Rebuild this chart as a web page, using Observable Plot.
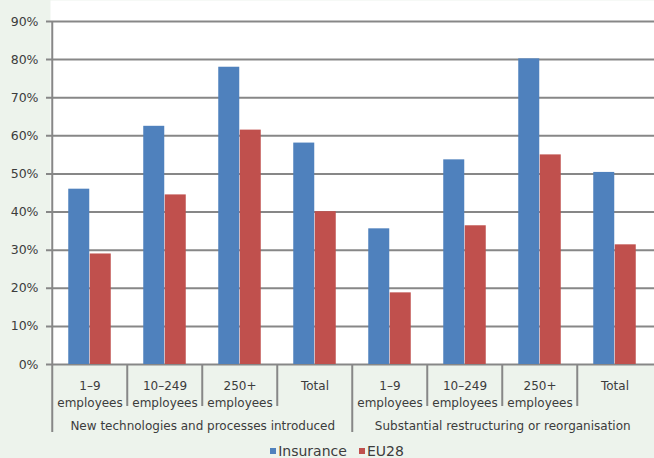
<!DOCTYPE html>
<html>
<head>
<meta charset="utf-8">
<script src="https://cdn.jsdelivr.net/npm/d3@7"></script>
<script src="https://cdn.jsdelivr.net/npm/@observablehq/plot@0.6"></script>
<style>
  body { margin: 0; background: #edf3ec; font-family: "DejaVu Sans", sans-serif; }
  #chart svg { display: block; }
  #legend { display: flex; justify-content: center; align-items: center; height: 20px;
            padding-top: 3px; padding-left: 20px; font-size: 14px; color: #3c3c3c; }
  #legend .item { display: flex; align-items: center; margin: 0 6px; }
  #legend .sw { width: 6px; height: 6px; margin-right: 2px; }
</style>
</head>
<body>
<div id="chart"></div>
<div id="legend"></div>
<script>
// Share of establishments reporting each type of change, by size class
const groups = ["New technologies and processes introduced", "Substantial restructuring or reorganisation"];
const sizes = ["1–9\nemployees", "10–249\nemployees", "250+\nemployees", "Total"];
const insurance = [46.0, 62.5, 78.0, 58.1, 35.6, 53.7, 80.2, 50.4];
const eu28 = [29.0, 44.5, 61.5, 40.1, 18.8, 36.4, 55.0, 31.4];
const yTicks = [0, 10, 20, 30, 40, 50, 60, 70, 80, 90];
const seriesNames = ["Insurance", "EU28"];
const seriesColors = ["#4f81bd", "#c0504d"];

const rows = insurance.map((v, i) => ({
  key: groups[Math.floor(i / sizes.length)] + "|" + sizes[i % sizes.length],
  group: groups[Math.floor(i / sizes.length)],
  size: sizes[i % sizes.length],
  groupStart: i % sizes.length === 0,
  insurance: v,
  eu28: eu28[i]
}));
const keys = rows.map(d => d.key);

const width = 654, marginLeft = 50, marginRight = 0;
const step = (width - marginLeft - marginRight) / keys.length;
const half = step / 2;
const barW = 21.5;
const outer = (step - 2 * barW) / 2;
const axisColor = "#878787";
const textColor = "#3c3c3c";

const chart = Plot.plot({
  width, height: 438,
  marginLeft, marginRight, marginTop: 21, marginBottom: 74,
  style: { fontFamily: "DejaVu Sans, sans-serif", fontSize: "12px", color: textColor, background: "transparent", overflow: "visible" },
  x: { domain: keys, padding: 0, axis: null },
  y: { domain: [0, 90], axis: null },
  marks: [
    Plot.frame({ fill: "white", stroke: null, insetTop: -21 }),
    Plot.ruleY(yTicks, { stroke: axisColor, strokeWidth: 2, insetLeft: -4 }),
    Plot.barY(rows, { x: "key", y: "insurance", fill: seriesColors[0], insetLeft: outer, insetRight: outer + barW }),
    Plot.barY(rows, { x: "key", y: "eu28", fill: seriesColors[1], insetLeft: outer + barW, insetRight: outer }),
    // value axis labels
    Plot.text(yTicks, { y: d => d, text: d => d + "%", frameAnchor: "left", textAnchor: "end", dx: -12, fill: textColor, fontSize: 12.5 }),
    // separators between size classes
    Plot.ruleX(rows.filter(d => !d.groupStart), { x: "key", y1: 0, y2: 0, insetBottom: -42, dx: -half, stroke: axisColor, strokeWidth: 2 }),
    // separators between the two groups, and the value axis
    Plot.ruleX(rows.filter(d => d.groupStart && d.key !== keys[0]), { x: "key", y1: 0, y2: 0, insetBottom: -68, dx: -half, stroke: axisColor, strokeWidth: 2 }),
    Plot.ruleX([keys[0]], { x: d => d, y1: 90, y2: 0, insetBottom: -68, dx: -half, stroke: axisColor, strokeWidth: 2 }),
    // size class labels
    Plot.text(rows, { x: "key", text: "size", frameAnchor: "bottom", lineAnchor: "top", dy: 13.5, lineHeight: 1.4, fill: textColor, fontSize: 12 }),
    // group labels, centred between the 2nd and 3rd size classes
    Plot.text(rows.filter((d, i) => i % sizes.length === 1), { x: "key", text: "group", frameAnchor: "bottom", lineAnchor: "top", dy: 56.5, dx: half, fill: textColor, fontSize: 12 })
  ]
});
document.getElementById("chart").appendChild(chart);

const legend = document.getElementById("legend");
seriesNames.forEach((name, i) => {
  const item = document.createElement("div");
  item.className = "item";
  const sw = document.createElement("span");
  sw.className = "sw";
  sw.style.background = seriesColors[i];
  const label = document.createElement("span");
  label.textContent = name;
  item.appendChild(sw);
  item.appendChild(label);
  legend.appendChild(item);
});
</script>
</body>
</html>
